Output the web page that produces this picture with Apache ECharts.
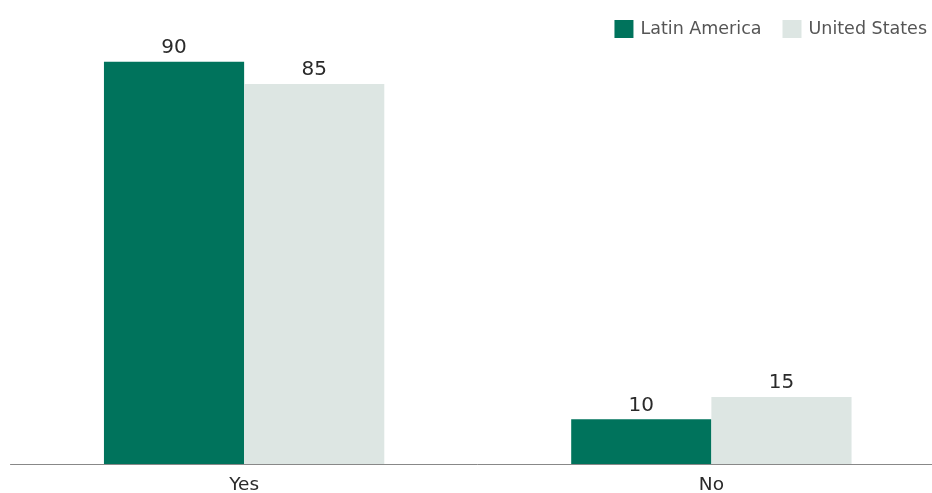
<!DOCTYPE html>
<html><head><meta charset="utf-8">
<script src="https://cdn.jsdelivr.net/npm/echarts@6/dist/echarts.min.js"></script>
<style>html,body{margin:0;padding:0;background:#fff;overflow:hidden}#c{width:945px;height:493px}</style>
</head><body><div id="c"></div>
<script>
const categories = ["Yes", "No"];
const latinAmerica = [90, 10];
const unitedStates = [85, 15];
const seriesNames = ["Latin America", "United States"];

const FONT = "'DejaVu Sans', sans-serif";
const chart = echarts.init(document.getElementById('c'), null, {renderer: 'canvas'});
chart.setOption({
  animation: false,
  textStyle: {fontFamily: FONT},
  legend: {
    right: 13, top: 15,
    itemWidth: 19, itemHeight: 18, itemGap: 21,
    icon: 'rect',
    textStyle: {fontFamily: FONT, fontSize: 17.5, color: '#555', padding: [0, 0, 0, 2]},
    data: seriesNames
  },
  grid: {left: 10.5, right: 0, top: 17, bottom: 29, containLabel: false, outerBoundsMode: 'none'},
  xAxis: {
    type: 'category', data: categories,
    axisLine: {lineStyle: {color: '#888', width: 1}},
    axisTick: {show: false},
    axisLabel: {fontFamily: FONT, fontSize: 18.5, color: '#2a2a2a', margin: 12}
  },
  yAxis: {type: 'value', min: 0, max: 100, show: false, splitLine: {show: false}},
  series: [
    {name: seriesNames[0], type: 'bar', data: latinAmerica, barGap: '0%', barCategoryGap: '40%',
     itemStyle: {color: '#00735C'},
     label: {show: true, position: 'top', fontFamily: FONT, fontSize: 20, color: '#2a2a2a', distance: 4}},
    {name: seriesNames[1], type: 'bar', data: unitedStates,
     itemStyle: {color: '#DDE6E3'},
     label: {show: true, position: 'top', fontFamily: FONT, fontSize: 20, color: '#2a2a2a', distance: 4}}
  ]
});
</script></body></html>
